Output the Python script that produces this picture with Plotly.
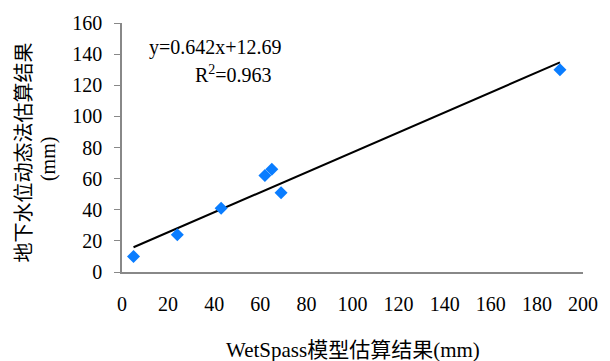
import plotly.graph_objects as go

# data
wetspass = [5, 24, 43, 62, 65, 69, 190]
water_level = [10, 24, 41, 62, 66, 51, 130]
slope = 0.642
intercept = 12.69
r2 = 0.963
x_ticks = [0, 20, 40, 60, 80, 100, 120, 140, 160, 180, 200]
y_ticks = [0, 20, 40, 60, 80, 100, 120, 140, 160]

serif = "Liberation Serif, Times New Roman, serif"
cjk = "Liberation Serif, Noto Sans CJK SC, serif"

fit_x = [min(wetspass), max(wetspass)]
fit_y = [slope * v + intercept for v in fit_x]

# plot area in page pixels: x 122..593, y 22..272
L, R, T, B = 122, 593, 22, 272
W, H = 610, 361


def px(xp):
    return (xp - L) / (R - L)


def py(yp):
    return (B - yp) / (B - T)


fig = go.Figure()
fig.add_trace(go.Scatter(x=fit_x, y=fit_y, mode="lines",
                         line=dict(color="black", width=2), showlegend=False))
fig.add_trace(go.Scatter(x=wetspass, y=water_level, mode="markers",
                         marker=dict(symbol="diamond", size=10, color="#0A7DFF"),
                         showlegend=False))

fig.update_layout(
    width=W, height=H,
    margin=dict(l=L, r=W - R, t=T, b=H - B, pad=0),
    plot_bgcolor="white", paper_bgcolor="white",
    font=dict(family=serif, size=20, color="black"),
    xaxis=dict(range=[0, 200], tickvals=x_ticks, showgrid=False, zeroline=False,
               showline=True, linecolor="#888", linewidth=1.5, ticks="",
               ticklabelstandoff=13, tickfont=dict(family=serif, size=20)),
    yaxis=dict(range=[0, 160], tickvals=y_ticks, showgrid=False, zeroline=False,
               showline=True, linecolor="#888", linewidth=1.5, ticks="outside",
               ticklen=6, tickcolor="#888", ticklabelstandoff=8,
               tickfont=dict(family=serif, size=20)),
    annotations=[
        dict(text=f"y={slope}x+{intercept}", xref="paper", yref="paper",
             x=px(218), y=py(47), xanchor="center", yanchor="middle",
             showarrow=False, font=dict(family=serif, size=20)),
        dict(text=f"R<sup>2</sup>={r2}", xref="paper", yref="paper",
             x=px(236), y=py(73), xanchor="center", yanchor="middle",
             showarrow=False, font=dict(family=serif, size=20)),
        dict(text="地下水位动态法估算结果", xref="paper", yref="paper",
             x=px(22), y=py(152), xanchor="center", yanchor="middle",
             showarrow=False, textangle=-90, font=dict(family=cjk, size=20)),
        dict(text="(mm)", xref="paper", yref="paper",
             x=px(47), y=py(159), xanchor="center", yanchor="middle",
             showarrow=False, textangle=-90, font=dict(family=serif, size=20)),
        dict(text="WetSpass模型估算结果(mm)", xref="paper", yref="paper",
             x=px(358), y=py(350), xanchor="center", yanchor="middle",
             showarrow=False, font=dict(family=cjk, size=21)),
    ],
)

fig.write_html("out.html",
               config={"displayModeBar": False},
               post_script="document.body.style.margin='0';"
                           "document.body.style.overflow='hidden';")
